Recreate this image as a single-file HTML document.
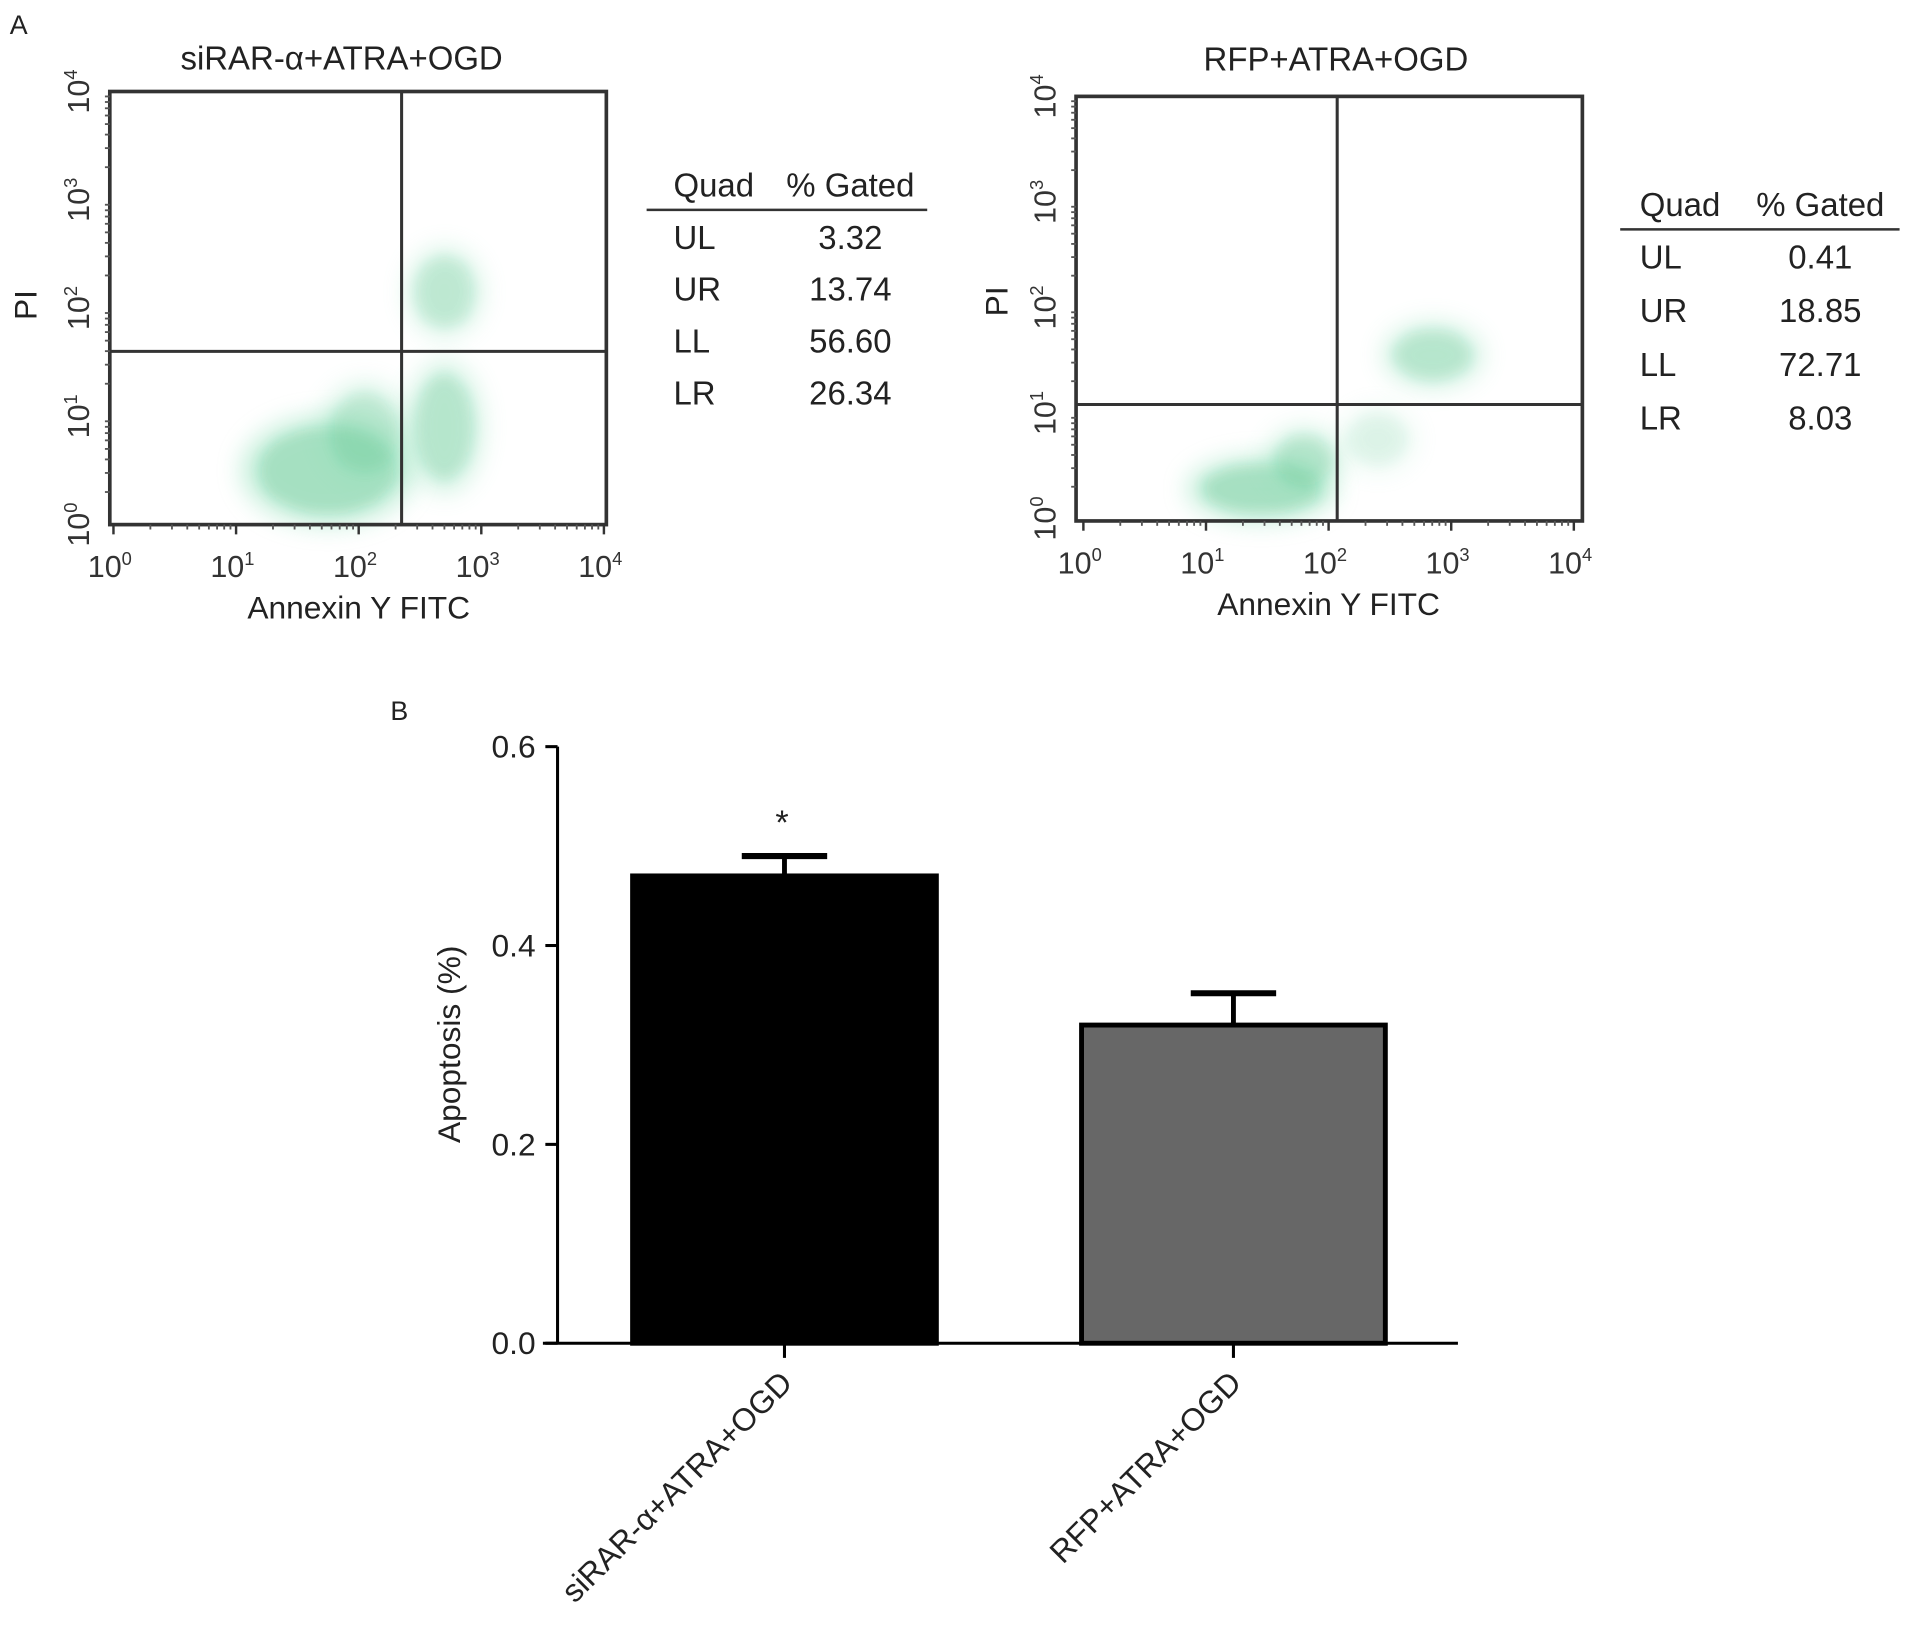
<!DOCTYPE html>
<html><head><meta charset="utf-8">
<style>
html,body{margin:0;padding:0;background:#fff;}
svg{display:block;font-family:"Liberation Sans",sans-serif;}
</style></head>
<body>
<svg id="fig" width="1913" height="1633" viewBox="0 0 1568 1338.5" preserveAspectRatio="none" xmlns="http://www.w3.org/2000/svg">
<defs>
<filter id="blur" x="-50%" y="-50%" width="200%" height="200%"><feGaussianBlur stdDeviation="10"/></filter>
<filter id="blur2" x="-50%" y="-50%" width="200%" height="200%"><feGaussianBlur stdDeviation="5"/></filter>
<pattern id="speck" width="6" height="6" patternUnits="userSpaceOnUse">
<rect x="0" y="1" width="2" height="2" fill="#179a52"/><rect x="3" y="4" width="2" height="2" fill="#2aa865"/>
</pattern>
</defs>
<text x="8" y="28" font-size="22" fill="#222">A</text>
<text x="320" y="590" font-size="22" fill="#222">B</text>
<g id="flow1"></g>
<g id="flow2"></g>
<g id="bars"></g>
</svg>
<script>
// ---------- data ----------
const flowTitles = ["siRAR-α+ATRA+OGD", "RFP+ATRA+OGD"];
const decadeLabels = ["0", "1", "2", "3", "4"];
const quadNames = ["UL", "UR", "LL", "LR"];
const gated1 = ["3.32", "13.74", "56.60", "26.34"];
const gated2 = ["0.41", "18.85", "72.71", "8.03"];
// gate positions in log10 units
const gate1 = [2.35, 1.6];
const gate2 = [2.07, 1.08];
// clusters: [logX, logY, spreadX, spreadY, density]
const clusters1 = [[1.75, 0.5, 0.7, 0.5, 1.0], [2.05, 0.85, 0.35, 0.45, 0.7], [2.7, 0.9, 0.3, 0.6, 0.8], [2.7, 2.15, 0.3, 0.4, 0.7]];
const clusters2 = [[1.45, 0.28, 0.6, 0.3, 1.0], [1.8, 0.55, 0.3, 0.3, 0.8], [2.85, 1.55, 0.4, 0.3, 0.8], [2.4, 0.75, 0.3, 0.3, 0.35]];
const barCats = ["siRAR-α+ATRA+OGD", "RFP+ATRA+OGD"];
const barVals = [0.47, 0.32];
const barErr = [0.02, 0.032];
const yTicks = [0, 0.2, 0.4, 0.6];
const yTickLabels = ["0.0", "0.2", "0.4", "0.6"];

const NS = "http://www.w3.org/2000/svg";
function mk(parent, tag, attrs, text) {
  const e = document.createElementNS(NS, tag);
  for (const k in attrs) e.setAttribute(k, attrs[k]);
  if (text !== undefined) e.textContent = text;
  parent.appendChild(e);
  return e;
}

function flow(gid, cfg) {
  const g = document.getElementById(gid);
  const sx = v => cfg.x0 + (cfg.x1 - cfg.x0) * v / 4;
  const sy = v => cfg.y0 - (cfg.y0 - cfg.y1) * v / 4;
  cfg.clusters.forEach((c, i) => {
    const w = (cfg.x1 - cfg.x0) / 4, h = (cfg.y0 - cfg.y1) / 4;
    const b = mk(g, "ellipse", {cx: sx(c[0]), cy: sy(c[1]), rx: c[2] * w, ry: c[3] * h, fill: "#8fe0b8", opacity: 0.55 * c[4], filter: "url(#blur)"});
    
    
    const s = mk(g, "ellipse", {cx: sx(c[0]), cy: sy(c[1]), rx: c[2] * w * 0.8, ry: c[3] * h * 0.8, fill: "url(#speck)", opacity: 0.8 * c[4], filter: "url(#blur2)"});
    
    
  });
  const box = mk(g, "rect", {x: cfg.bx0, y: cfg.by0, width: cfg.bx1 - cfg.bx0, height: cfg.by1 - cfg.by0, fill: "none", stroke: "#333", "stroke-width": 3});
  
  
  const vl = mk(g, "line", {x1: sx(cfg.gate[0]), x2: sx(cfg.gate[0]), y1: cfg.by0, y2: cfg.by1, stroke: "#333", "stroke-width": 2.5});
  
  
  const hl = mk(g, "line", {x1: cfg.bx0, x2: cfg.bx1, y1: sy(cfg.gate[1]), y2: sy(cfg.gate[1]), stroke: "#333", "stroke-width": 2.5});
  
  
  decadeLabels.forEach((d, i) => {
    const tx = mk(g, "text", {x: sx(i) - 3, y: cfg.by1 + 43, "font-size": 25, fill: "#333", "text-anchor": "middle"});
    
    
    mk(tx, "tspan", {}, "10");
    mk(tx, "tspan", {dy: -10, "font-size": 15}, d);
    const t = mk(g, "line", {x1: sx(i), x2: sx(i), y1: cfg.by1, y2: cfg.by1 + 8, stroke: "#333", "stroke-width": 2});
    
    
    const ty = mk(g, "text", {transform: `translate(${cfg.bx0 - 17},${sy(i)}) rotate(-90)`, "font-size": 25, fill: "#333", "text-anchor": "middle"});
    
    
    mk(ty, "tspan", {}, "10");
    mk(ty, "tspan", {dy: -10, "font-size": 15}, d);
    for (let m = 2; m <= 9 && i < 4; m++) {
      const lv = i + Math.log10(m);
      const mt = mk(g, "line", {x1: sx(lv), x2: sx(lv), y1: cfg.by1, y2: cfg.by1 + 4, stroke: "#555", "stroke-width": 1.5});
      
      
      const my = mk(g, "line", {x1: cfg.bx0 - 4, x2: cfg.bx0, y1: sy(lv), y2: sy(lv), stroke: "#555", "stroke-width": 1.5});
      
      
    }
  });
  const ti = mk(g, "text", {x: cfg.tx, y: cfg.ty, "font-size": 27, fill: "#222", "text-anchor": "middle"}, cfg.title);
  
  
  const xt = mk(g, "text", {x: (cfg.x0 + cfg.x1) / 2, y: cfg.by1 + 77, "font-size": 26, fill: "#222", "text-anchor": "middle"}, "Annexin Y FITC");
  
  
  const yt = mk(g, "text", {transform: `translate(${cfg.pix},${cfg.piy}) rotate(-90)`, "font-size": 26, fill: "#222", "text-anchor": "middle"}, "PI");
  
  
  const th1 = mk(g, "text", {x: cfg.qx, y: cfg.hy, "font-size": 27, fill: "#222"}, "Quad");
  
  
  const th2 = mk(g, "text", {x: cfg.vx, y: cfg.hy, "font-size": 27, fill: "#222", "text-anchor": "middle"}, "% Gated");
  
  
  const tl = mk(g, "line", {x1: cfg.lx0, x2: cfg.lx1, y1: cfg.hy + 11, y2: cfg.hy + 11, stroke: "#333", "stroke-width": 2});
  
  
  quadNames.forEach((q, i) => {
    const y = cfg.hy + 43 + i * cfg.rh;
    const a = mk(g, "text", {x: cfg.qx, y: y, "font-size": 27, fill: "#222"}, q);
    
    
    const b = mk(g, "text", {x: cfg.vx, y: y, "font-size": 27, fill: "#222", "text-anchor": "middle"}, cfg.vals[i]);
    
    
  });
}

flow("flow1", {x0: 93, x1: 495, y0: 430, y1: 75, bx0: 90, bx1: 497, by0: 75, by1: 430,
  gate: gate1, clusters: clusters1, title: flowTitles[0], tx: 280, ty: 57, pix: 30, piy: 250,
  qx: 552, vx: 697, hy: 161, lx0: 530, lx1: 760, rh: 42.5, vals: gated1});
flow("flow2", {x0: 888, x1: 1290, y0: 425, y1: 79, bx0: 882, bx1: 1297, by0: 79, by1: 427,
  gate: gate2, clusters: clusters2, title: flowTitles[1], tx: 1095, ty: 58, pix: 826, piy: 247,
  qx: 1344, vx: 1492, hy: 177, lx0: 1328, lx1: 1557, rh: 44, vals: gated2});

// ---------- bar chart ----------
(function () {
  const g = document.getElementById("bars");
  const ax = 457, ay = 1101, ytop = 612;
  const y = v => ay - (ay - ytop) * v / 0.6;
  const centers = [643, 1011];
  const bw = 249;
  const fills = ["#000", "#676767"];
  barVals.forEach((v, i) => {
    const cx = centers[i];
    const eb = mk(g, "line", {x1: cx, x2: cx, y1: y(v), y2: y(v + barErr[i]), stroke: "#000", "stroke-width": 4});
    
    
    const cap = mk(g, "line", {x1: cx - 35, x2: cx + 35, y1: y(v + barErr[i]), y2: y(v + barErr[i]), stroke: "#000", "stroke-width": 5});
    
    
    const r = mk(g, "rect", {x: cx - bw / 2, y: y(v), width: bw, height: ay - y(v), fill: fills[i], stroke: "#000", "stroke-width": 4});
    
    
    const t = mk(g, "line", {x1: cx, x2: cx, y1: ay, y2: ay + 12, stroke: "#000", "stroke-width": 2.5});
    
    
    const l = mk(g, "text", {transform: `translate(${cx + 8},${ay + 34}) rotate(-45)`, "font-size": 26, fill: "#222", "text-anchor": "end"}, barCats[i]);
    
    
  });
  const st = mk(g, "text", {x: centers[0] - 2, y: y(barVals[0] + barErr[0]) - 18, "font-size": 28, fill: "#222", "text-anchor": "middle"}, "*");
  
  
  const ya = mk(g, "line", {x1: ax, x2: ax, y1: ytop, y2: ay, stroke: "#000", "stroke-width": 2.5});
  
  
  const xa = mk(g, "line", {x1: 445, x2: 1195, y1: ay, y2: ay, stroke: "#000", "stroke-width": 2.5});
  
  
  yTicks.forEach((v, i) => {
    const t = mk(g, "line", {x1: ax - 10, x2: ax, y1: y(v), y2: y(v), stroke: "#000", "stroke-width": 2.5});
    
    
    const l = mk(g, "text", {x: ax - 18, y: y(v) + 9, "font-size": 26, fill: "#222", "text-anchor": "end"}, yTickLabels[i]);
    
    
  });
  const yt = mk(g, "text", {transform: `translate(377,856) rotate(-90)`, "font-size": 26, fill: "#222", "text-anchor": "middle"}, "Apoptosis (%)");
  
  
})();
</script>
</body></html>
